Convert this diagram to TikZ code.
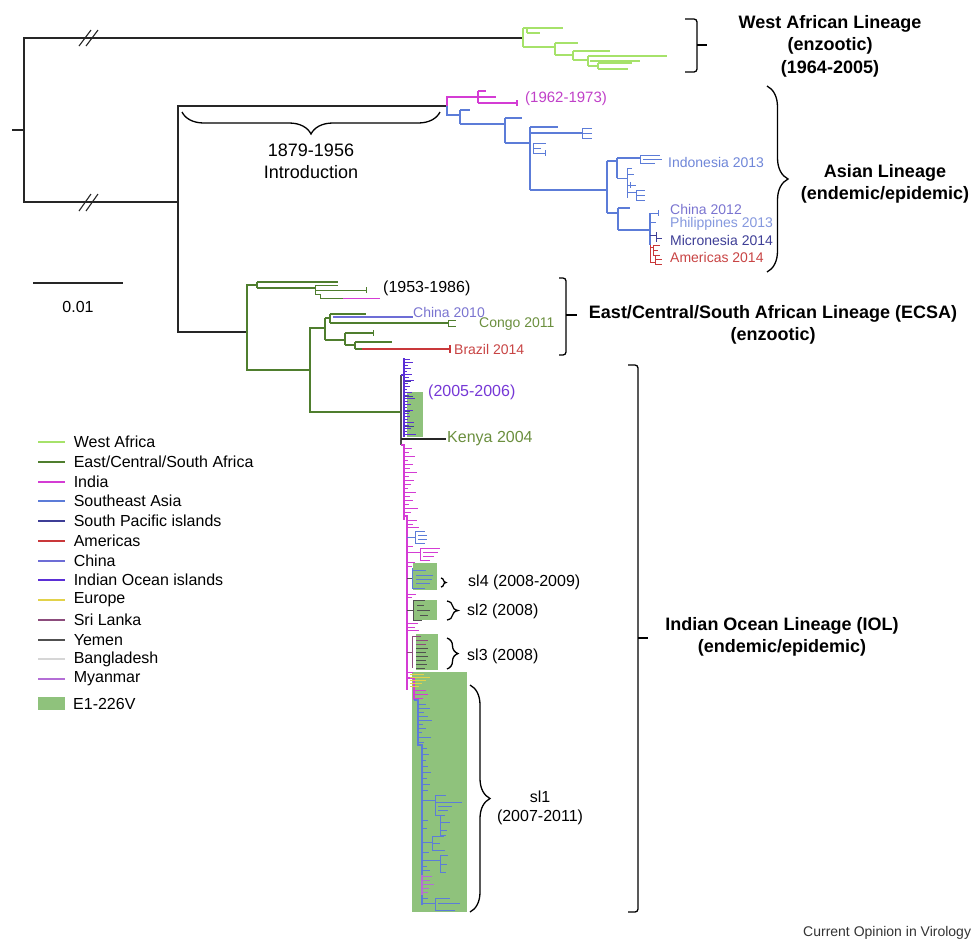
\documentclass[tikz,border=0pt]{standalone}
\usepackage{fontspec}
\setmainfont{Liberation Sans}
\usepackage{xcolor}
\usepackage{tikz}
\usetikzlibrary{decorations.pathreplacing}

% region colours
\definecolor{cWA}{HTML}{A6E26A}
\definecolor{cECSA}{HTML}{4F7E2E}
\definecolor{cIND}{HTML}{D43CD4}
\definecolor{cSEA}{HTML}{5C7CD8}
\definecolor{cSPI}{HTML}{3E3E96}
\definecolor{cAM}{HTML}{C9383A}
\definecolor{cCHN}{HTML}{6D6DD6}
\definecolor{cIOI}{HTML}{5B2FD6}
\definecolor{cEUR}{HTML}{E2D24A}
\definecolor{cSRL}{HTML}{8C4C7C}
\definecolor{cYEM}{HTML}{505050}
\definecolor{cBGD}{HTML}{D6D6D6}
\definecolor{cMYA}{HTML}{B46ED6}
\definecolor{cE1}{HTML}{8FC27C}
% label colours
\definecolor{tBlue}{HTML}{6F86D8}
\definecolor{tLav}{HTML}{7A74D0}
\definecolor{tGreen}{HTML}{6B8F3E}
\definecolor{tRed}{HTML}{C84444}
\definecolor{tMag}{HTML}{C040C8}
\definecolor{tPur}{HTML}{7638D6}

\begin{document}
\begin{tikzpicture}[
    x=1pt, y=-1pt,
    every node/.style={font=\fontsize{16}{19}\selectfont, inner sep=1pt},
    blk/.style={line width=1.4pt, draw=black!85},
    tree/.style={line width=1.2pt},
    twig/.style={line width=0.8pt},
    brk/.style={line width=1.3pt, rounded corners=3pt},
    brc/.style={line width=1.3pt, decorate, decoration={brace, amplitude=#1}},
    title/.style={font=\fontsize{18}{22.5}\selectfont\bfseries, align=center},
    tiplbl/.style={font=\fontsize{14}{15}\selectfont, anchor=west},
    e1/.style={fill=cE1, draw=none}
]
\useasboundingbox (0,0) rectangle (973,938);

% E1-226V shading
\fill[e1] (407,392) rectangle (423,437);
\fill[e1] (413,563) rectangle (437,590);
\fill[e1] (414,600) rectangle (437,620);
\fill[e1] (416,634) rectangle (438,670);
\fill[e1] (412,672) rectangle (467,912);

% Backbone
\coordinate (stub) at (12,130);
\coordinate (nRoot) at (24,130);
\coordinate (nWA) at (523,38);
\coordinate (nAE) at (178,202);
\coordinate (nAsia) at (447,106);
\coordinate (nEI) at (247,332);
\draw[blk] (stub) -- (nRoot);
\draw[blk] (nWA) -| (nRoot) |- (nAE);
\draw[blk] (nAsia) -| (nAE) |- (nEI);
\draw[blk, line width=1.1pt] (79,46) -- (91,30) (86,46) -- (98,30);
\draw[blk, line width=1.1pt] (79,211) -- (91,194) (86,211) -- (98,194);

% Scale bar
\draw[blk] (33,283) -- (123,283);
\node (scale) at (78,307) {0.01};

% West African lineage
\draw[tree, cWA] (523,28) -- (523,47) (523,28) -- (563,28) (527,28) -- (527,33) (527,33) -- (540,33);
\draw[tree, cWA] (523,47) -- (555,47) (555,43) -- (555,55) (555,43) -- (578,43) (555,55) -- (573,55);
\draw[tree, cWA] (573,51) -- (573,60) (573,51) -- (610,51) (573,60) -- (588,60);
\draw[tree, cWA] (588,56) -- (588,66) (588,56) -- (667,56) (590,61) -- (640,61) (588,66) -- (598,66);
\draw[tree, cWA] (598,63) -- (598,69) (598,63) -- (632,63) (598,69) -- (628,69);

% Asian lineage
\coordinate (nA1) at (478,97);
\coordinate (nA2) at (460,115);
\draw[tree, cIND] (nA1) -| (nAsia);
\draw[tree, cSEA] (nAsia) |- (nA2);
\draw[tree, cIND] (478,91) -- (478,103) (478,91) -- (486,91) (478,97) -- (496,97) (478,103) -- (517,103) (517,100) -- (517,106);
\draw[tree, cSEA] (460,110) -- (460,124) (460,110) -- (470,110) (460,124) -- (505,124);
\draw[tree, cSEA] (505,118) -- (505,143) (505,118) -- (522,118) (505,143) -- (530,143);
\draw[tree, cSEA] (530,127) -- (530,190) (530,127) -- (558,127) (530,133) -- (582,133);
\draw[twig, cSEA] (582,128) -- (582,138) (582,128) -- (592,128) (582,133) -- (592,133) (582,138) -- (592,138);
\draw[twig, cSEA] (533,143) -- (533,153) (533,143) -- (546,143) (533,148) -- (541,148) (533,153) -- (545,153) (545,150) -- (545,156);
\draw[tree, cSEA] (530,190) -- (607,190) (607,161) -- (607,213);
\draw[tree, cSEA] (607,161) -- (617,161) (617,158) -- (617,178) (617,158) -- (640,158);
\draw[twig, cSEA] (640,155) -- (640,163) (640,155) -- (660,155) (643,159) -- (662,159) (640,163) -- (655,163);
\draw[twig, cSEA] (617,178) -- (627,178) (627,168) -- (627,198) (627,168) -- (632,168) (627,174) -- (634,174)
      (630,182) -- (630,188) (627,185) -- (636,185) (627,192) -- (636,192) (636,190) -- (636,200) (636,190) -- (645,190) (636,195) -- (645,195) (636,200) -- (645,200);
\draw[tree, cSEA] (607,213) -- (618,213) (618,208) -- (618,230) (618,208) -- (630,208) (618,230) -- (650,230) (650,213) -- (650,245);
\draw[twig, cSEA] (650,213) -- (658,213) (658,210) -- (658,216) (650,222) -- (656,222);
\draw[twig, cSPI] (650,235) -- (656,235) (656,232) -- (656,242) (656,238) -- (662,238);
\draw[twig, cAM] (650,245) -- (650,262) (650,247) -- (653,247) (653,245) -- (653,255) (653,245) -- (660,245) (653,250) -- (658,250) (653,255) -- (660,255)
      (650,262) -- (655,262) (655,256) -- (655,264) (655,259) -- (662,259) (655,264) -- (662,264);
\node[tiplbl, font=\fontsize{15}{16}\selectfont, text=tMag] (a1962) at (524,99) {(1962-1973)};
\node[tiplbl, text=tBlue] (indo) at (667,162) {Indonesia 2013};
\node[tiplbl, text=tLav] (chn12) at (669,209) {China 2012};
\node[tiplbl, text=tBlue!85!white] (phil) at (669,224) {Philippines 2013};
\node[tiplbl, text=cSPI] (micro) at (669,240) {Micronesia 2014};
\node[tiplbl, text=tRed] (amer) at (669,257) {Americas 2014};

% Introduction brace
\draw[brc=22pt] (440,112) -- (182,112);
\node[align=center, font=\fontsize{18}{22}\selectfont] (intro) at (311,161) {1879-1956\\Introduction};

% ECSA lineage
\coordinate (nE1) at (257,285);
\coordinate (nE2) at (310,370);
\coordinate (nE3) at (325,328);
\coordinate (nIOL) at (401,412);
\draw[tree, cECSA] (nE1) -| (nEI) |- (nE2);
\draw[tree, cECSA] (nE3) -| (nE2) |- (nIOL);
\draw[tree, cECSA] (257,282) -- (257,288) (257,282) -- (338,282) (257,288) -- (315,288);
\draw[twig, cECSA] (315,285) -- (315,294) (315,285) -- (338,285) (315,290) -- (366,290) (366,287) -- (366,293) (315,294) -- (320,294) (320,294) -- (320,298) (320,298) -- (343,298);
\draw[twig, cIND] (343,298) -- (380,298);
\draw[tree, cECSA] (325,318) -- (325,340) (325,318) -- (330,318) (330,314) -- (330,323) (330,314) -- (366,314) (330,323) -- (448,323);
\draw[tree, cCHN] (333,317) -- (413,317);
\draw[twig, cECSA] (448,320) -- (448,326) (448,320) -- (456,320) (448,326) -- (456,326);
\draw[tree, cECSA] (325,340) -- (345,340) (345,333) -- (345,345) (345,333) -- (373,333) (345,345) -- (355,345) (355,342) -- (355,349) (355,342) -- (392,342) (355,349) -- (362,349);
\draw[twig, cECSA] (373,330) -- (373,336);
\draw[tree, cAM] (362,349) -- (450,349) (450,345) -- (450,353);
\node[tiplbl, font=\fontsize{16}{18}\selectfont] (e1953) at (382,288) {(1953-1986)};
\node[tiplbl, text=tLav] (chn10) at (412,312) {China 2010};
\node[tiplbl, text=tGreen] (congo) at (478,324) {Congo 2011};
\node[tiplbl, text=tRed] (brazil) at (453,349) {Brazil 2014};

% IOL lineage, upper part
\draw[tree, cYEM] (401,375) -- (401,445);
\draw[tree, cIOI] (401,375) -- (404,375) (404,358) -- (404,437);
\foreach \y/\l in {359/6,362/9,365/4,368/7,371/3,374/8,377/5,380/10,383/4,386/6,389/3,392/8,395/5,398/11,401/4,404/7,407/3,410/9,413/5,416/6,419/4,422/10,425/5,428/7,431/3,434/12}
    \draw[twig, cIOI] (404,\y) -- ++(\l,0);
\foreach \y/\l in {381/6,396/8,411/5,426/9}
    \draw[twig, cSPI] (405,\y) -- ++(\l,0);
\node[anchor=west, text=tPur] (a2005) at (427,392) {(2005-2006)};
\node[anchor=west, text=tGreen] (kenya) at (446,439) {Kenya 2004};
\draw[blk, line width=1.2pt] (401,439) -- (kenya.west);

% IOL lineage, India
\draw[tree, cIND] (401,445) -- (404,445) -- (404,520);
\draw[tree, cIND] (404,516) -- (407,516) -- (407,690);
\foreach \y/\l in {448/8,452/5,456/11,460/4,464/9,468/6,472/13,476/5,480/10,484/7,488/4,492/12,496/6,500/9,504/5,508/14,512/7}
    \draw[twig, cIND] (404,\y) -- ++(\l,0);
\foreach \y/\l in {520/10,524/6,527/12,546/6,562/8,566/5,594/9,597/5,623/11,627/8,630/12,672/6}
    \draw[twig, cIND] (407,\y) -- ++(\l,0);
\draw[twig, cSEA] (407,537) -- (415,537) (415,531) -- (415,543) (415,531) -- (425,531) (418,535) -- (427,535) (418,539) -- (427,539) (415,543) -- (425,543);
\draw[twig, cIND] (407,552) -- (420,552) (420,548) -- (420,560) (420,548) -- (440,548) (423,552) -- (438,552) (423,556) -- (434,556) (420,560) -- (430,560);
% sl4
\draw[twig, cYEM] (407,578) -- (412,578);
\draw[twig, cSEA] (412,568) -- (412,588) (412,570) -- (426,570) (416,575) -- (433,575) (416,579) -- (432,579) (416,583) -- (430,583) (412,588) -- (425,588);
% sl2
\draw[twig, cYEM] (407,610) -- (413,610) (413,600) -- (413,620) (413,600) -- (425,600) (417,605) -- (424,605) (417,610) -- (430,610) (420,615) -- (428,615) (413,620) -- (422,620);
% sl3
\draw[twig, cSRL] (407,652) -- (412,652) (412,636) -- (412,668) (412,636) -- (421,636) (416,640) -- (428,640) (416,644) -- (426,644);
\foreach \y/\l in {648/12,652/10,656/12,660/10,664/11,668/9}
    \draw[twig, cYEM] (416,\y) -- ++(\l,0);

% IOL lineage, sl1
\draw[tree, cIND] (407,678) -- (414,678) -- (414,700);
\foreach \y/\l in {674/14,677/20,680/16,683/12,686/9}
    \draw[twig, cEUR] (410,\y) -- ++(\l,0);
\foreach \y/\l in {690/12,694/14,698/9}
    \draw[twig, cIND] (414,\y) -- ++(\l,0);
\draw[tree, cSEA] (414,700) -- (418,700) -- (418,745) -- (422,745) -- (422,905);
\foreach \y/\l in {704/8,708/12,712/6,716/10,720/14,724/5,728/8,732/4,737/13,742/6}
    \draw[twig, cSEA] (418,\y) -- ++(\l,0);
\foreach \y/\l in {748/5,754/7,760/4,766/6,772/9,778/5,784/8,790/6,820/6,828/5,852/7,866/5,870/8,898/6}
    \draw[twig, cSEA] (422,\y) -- ++(\l,0);
\draw[twig, cSEA] (422,800) -- (435,800) (435,795) -- (435,815) (435,795) -- (446,795) (435,802) -- (462,802) (438,806) -- (452,806) (438,810) -- (448,810) (435,815) -- (445,815)
      (440,815) -- (440,835) (440,822) -- (450,822) (440,830) -- (447,830) (440,835) -- (446,835);
\draw[twig, cSEA] (422,842) -- (432,842) (432,836) -- (432,850) (432,836) -- (444,836) (432,843) -- (440,843) (432,850) -- (445,850);
\draw[twig, cSEA] (422,860) -- (440,860) (440,855) -- (440,872) (440,855) -- (448,855) (440,864) -- (447,864) (440,872) -- (446,872);
\draw[tree, cMYA] (422,875) -- (422,895);
\foreach \y/\l in {876/10,880/8,884/12,888/7,892/6}
    \draw[twig, cMYA] (422,\y) -- ++(\l,0);
\draw[twig, cSEA] (422,903) -- (435,903) (435,898) -- (435,910) (435,898) -- (450,898) (438,903) -- (460,903) (435,910) -- (455,910);

% Sublineage braces
\draw[brc=5pt] (441,578) -- (441,587);
\node[anchor=west] (sl4) at (467,582) {sl4 (2008-2009)};
\draw[brc=11pt] (447,601) -- (447,620);
\node[anchor=west] (sl2) at (466,611) {sl2 (2008)};
\draw[brc=11pt] (447,638) -- (447,669);
\node[anchor=west] (sl3) at (466,656) {sl3 (2008)};
\draw[brc=20pt] (470,685) -- (470,912);
\node[align=center] (sl1) at (540,808) {sl1\\(2007-2011)};

% Lineage brackets
\draw[brk] (685,19) -- (697,19) -- (697,72) -- (685,72);
\draw[brk] (697,45) -- (707,45);
\node[title] (walin) at (830,46) {West African Lineage\\(enzootic)\\(1964-2005)};
\draw[brc=21pt] (767,86) -- (767,272);
\node[title] (aslin) at (885,184) {Asian Lineage\\(endemic/epidemic)};
\draw[brk] (559,278) -- (566,278) -- (566,355) -- (559,355);
\draw[brk] (566,315) -- (577,315);
\node[title] (ecsalin) at (773,325) {East/Central/South African Lineage (ECSA)\\(enzootic)};
\draw[brk] (628,365) -- (638,365) -- (638,912) -- (628,912);
\draw[brk] (638,638) -- (648,638);
\node[title] (iollin) at (782,637) {Indian Ocean Lineage (IOL)\\(endemic/epidemic)};

% Legend
\foreach \c/\t [count=\i] in {cWA/{West Africa}, cECSA/{East/Central/South Africa}, cIND/{India}, cSEA/{Southeast Asia}, cSPI/{South Pacific islands}, cAM/{Americas}, cCHN/{China}, cIOI/{Indian Ocean islands}, cEUR/{Europe}, cSRL/{Sri Lanka}, cYEM/{Yemen}, cBGD/{Bangladesh}, cMYA/{Myanmar}}
    \draw[\c, line width=1.6pt] (38,{442+round((\i-1)*19.75)}) -- ++(27,0) node[right=7pt, text=black] (leg\i) {\t};
\fill[e1] (38,697) rectangle (65,710);
\node[anchor=west] (legE1) at (72,703.5) {E1-226V};

\node[anchor=west, font=\fontsize{14}{16}\selectfont, text=black!80] (journal) at (802,933) {Current Opinion in Virology};

\end{tikzpicture}
\end{document}
